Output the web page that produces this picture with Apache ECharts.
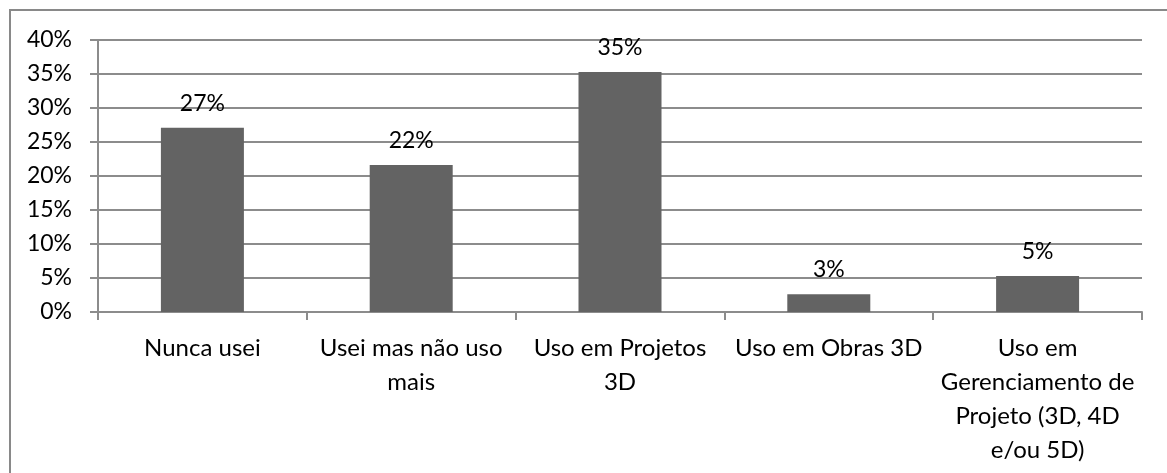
<!DOCTYPE html>
<html>
<head>
<meta charset="utf-8">
<script src="https://cdn.jsdelivr.net/npm/echarts@6/dist/echarts.min.js"></script>
<style>
html,body{margin:0;padding:0;background:#fff;}
#c{width:1167px;height:473px;}
</style>
</head>
<body>
<div id="c"></div>
<script>
const categories = ["Nunca usei", "Usei mas não uso mais", "Uso em Projetos 3D", "Uso em Obras 3D", "Uso em Gerenciamento de Projeto (3D, 4D e/ou 5D)"];
const values = [27.1, 21.6, 35.3, 2.6, 5.3];
const valueLabels = ["27%", "22%", "35%", "3%", "5%"];
const yTicks = [0, 5, 10, 15, 20, 25, 30, 35, 40];

const wrapped = {
  "Nunca usei": "Nunca usei",
  "Usei mas não uso mais": "Usei mas não uso\nmais",
  "Uso em Projetos 3D": "Uso em Projetos\n3D",
  "Uso em Obras 3D": "Uso em Obras 3D",
  "Uso em Gerenciamento de Projeto (3D, 4D e/ou 5D)": "Uso em\nGerenciamento de\nProjeto (3D, 4D\ne/ou 5D)"
};

const FONT = "Lato";
const chart = echarts.init(document.getElementById('c'), null, {renderer: 'canvas'});
chart.setOption({
  animation: false,
  backgroundColor: '#fff',
  textStyle: {fontFamily: FONT},
  graphic: [{
    type: 'rect',
    shape: {x: 10, y: 10, width: 1300, height: 600},
    style: {fill: 'none', stroke: '#898989', lineWidth: 2},
    silent: true, z: -1
  }],
  grid: {left: 98, right: 25, top: 40, bottom: 161, containLabel: false},
  xAxis: {
    type: 'category',
    data: categories,
    axisLine: {lineStyle: {color: '#8c8c8c', width: 2}},
    axisTick: {show: true, length: 8, lineStyle: {color: '#8c8c8c', width: 2}},
    axisLabel: {
      interval: 0, margin: 19, color: '#000', fontFamily: FONT, fontSize: 24,
      lineHeight: 34, align: 'center',
      formatter: v => wrapped[v] || v
    }
  },
  yAxis: {
    type: 'value',
    min: yTicks[0], max: yTicks[yTicks.length - 1], interval: yTicks[1] - yTicks[0],
    axisLine: {show: true, lineStyle: {color: '#8c8c8c', width: 2}},
    axisTick: {show: true, length: 8, lineStyle: {color: '#8c8c8c', width: 2}},
    splitLine: {lineStyle: {color: '#8c8c8c', width: 2}},
    axisLabel: {margin: 26, color: '#000', fontFamily: FONT, fontSize: 23, formatter: '{value}%'}
  },
  series: [{
    type: 'bar',
    data: values,
    barWidth: 83,
    itemStyle: {color: '#636363'},
    label: {
      show: true, position: 'top', distance: 13, color: '#000',
      fontFamily: FONT, fontSize: 23,
      formatter: p => valueLabels[p.dataIndex]
    }
  }]
});
</script>
</body>
</html>
